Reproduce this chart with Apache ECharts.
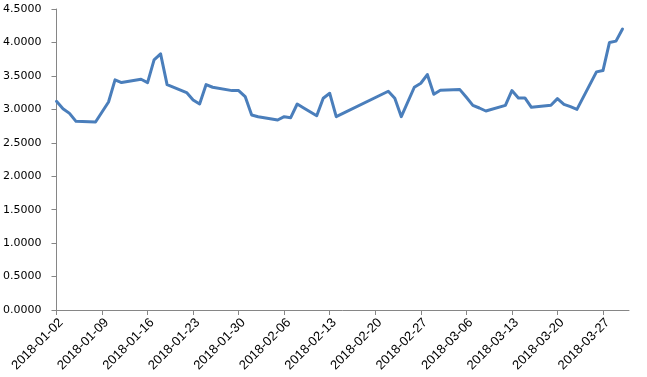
<!DOCTYPE html>
<html>
<head>
<meta charset="utf-8">
<script src="https://cdn.jsdelivr.net/npm/echarts@6/dist/echarts.min.js"></script>
<style>
  html, body { margin: 0; padding: 0; background: #fff; }
  #chart { width: 647px; height: 377px; }
</style>
</head>
<body>
<div id="chart"></div>
<script>
// trading dates (interbank calendar, incl. make-up days 02-11 and 02-24)
const dates = [
  '2018-01-02', '2018-01-03', '2018-01-04', '2018-01-05', '2018-01-08', '2018-01-09', '2018-01-10',
  '2018-01-11', '2018-01-12', '2018-01-15', '2018-01-16', '2018-01-17', '2018-01-18', '2018-01-19',
  '2018-01-22', '2018-01-23', '2018-01-24', '2018-01-25', '2018-01-26', '2018-01-29', '2018-01-30',
  '2018-01-31', '2018-02-01', '2018-02-02', '2018-02-05', '2018-02-06', '2018-02-07', '2018-02-08',
  '2018-02-09', '2018-02-11', '2018-02-12', '2018-02-13', '2018-02-14', '2018-02-22', '2018-02-23',
  '2018-02-24', '2018-02-26', '2018-02-27', '2018-02-28', '2018-03-01', '2018-03-02', '2018-03-05',
  '2018-03-06', '2018-03-07', '2018-03-08', '2018-03-09', '2018-03-12', '2018-03-13', '2018-03-14',
  '2018-03-15', '2018-03-16', '2018-03-19', '2018-03-20', '2018-03-21', '2018-03-22', '2018-03-23',
  '2018-03-26', '2018-03-27', '2018-03-28', '2018-03-29', '2018-03-30'
]
const values = [
  3.12, 3.01, 2.94, 2.82, 2.81, 2.96, 3.11,
  3.44, 3.40, 3.45, 3.40, 3.74, 3.83, 3.37,
  3.25, 3.14, 3.08, 3.37, 3.33, 3.28, 3.28,
  3.19, 2.915, 2.89, 2.84, 2.89, 2.875, 3.08,
  3.02, 2.905, 3.165, 3.24, 2.89, 3.27, 3.165,
  2.89, 3.33, 3.39, 3.52, 3.225, 3.285, 3.295,
  3.18, 3.06, 3.02, 2.975, 3.06, 3.28, 3.17,
  3.17, 3.03, 3.06, 3.16, 3.075, 3.04, 3.00,
  3.56, 3.58, 4.00, 4.02, 4.20
]
const axisStart = '2018-01-02'
const axisEnd = '2018-03-31'
const yTicks = [0, 0.5, 1, 1.5, 2, 2.5, 3, 3.5, 4, 4.5]

// calendar days for the date axis
function fmt(d) {
  const m = String(d.getUTCMonth() + 1).padStart(2, '0')
  const day = String(d.getUTCDate()).padStart(2, '0')
  return d.getUTCFullYear() + '-' + m + '-' + day
}
const days = []
for (let d = new Date(axisStart + 'T00:00:00Z'); fmt(d) <= axisEnd; d.setUTCDate(d.getUTCDate() + 1)) {
  days.push(fmt(d))
}
const lookup = {}
dates.forEach((d, i) => { lookup[d] = values[i] })
const seriesData = days.map(d => (d in lookup ? lookup[d] : null))

const axisColor = '#868686'
const chart = echarts.init(document.getElementById('chart'))
chart.setOption({
  animation: false,
  grid: {left: 55, right: 18, top: 9, bottom: 67},
  xAxis: {
    type: 'category',
    data: days,
    boundaryGap: false,
    axisLine: {lineStyle: {color: axisColor, width: 1}},
    axisTick: {show: true, interval: 6, length: 5, inside: false, lineStyle: {color: axisColor}},
    axisLabel: {
      interval: 6,
      rotate: 45,
      margin: 6,
      verticalAlign: 'top',
      color: '#000',
      fontFamily: 'Liberation Sans',
      fontSize: 13
    },
    splitLine: {show: false}
  },
  yAxis: {
    type: 'value',
    min: yTicks[0],
    max: yTicks[yTicks.length - 1],
    interval: 0.5,
    axisLine: {show: true, lineStyle: {color: axisColor, width: 1}},
    axisTick: {show: true, length: 5, lineStyle: {color: axisColor}},
    axisLabel: {
      margin: 15,
      color: '#000',
      fontFamily: 'DejaVu Sans',
      fontSize: 11,
      formatter: v => v.toFixed(4)
    },
    splitLine: {show: false}
  },
  series: [{
    type: 'line',
    data: seriesData,
    connectNulls: true,
    showSymbol: false,
    symbol: 'none',
    lineStyle: {color: '#4a7ebb', width: 3, join: 'round', cap: 'round'}
  }]
})
</script>
</body>
</html>
